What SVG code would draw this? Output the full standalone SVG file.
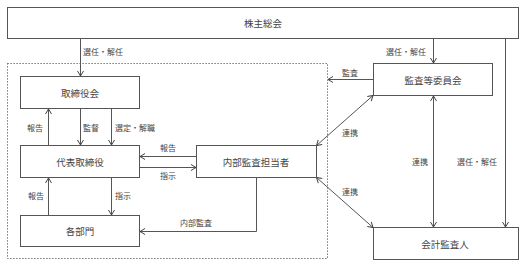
<svg xmlns="http://www.w3.org/2000/svg" width="528" height="266" viewBox="0 0 528 266">
<defs>
<style>
.box{fill:#fff;stroke:#555;stroke-width:1}
.bt{font-family:"Noto Sans CJK JP","Noto Sans CJK SC",sans-serif;font-size:9.5px;fill:#444;text-anchor:middle;dominant-baseline:central}
.lb{font-family:"Noto Sans CJK JP","Noto Sans CJK SC",sans-serif;font-size:8px;fill:#444}
.ln{fill:none;stroke:#555;stroke-width:1}
.a{marker-end:url(#ah)}
.d{marker-start:url(#ah);marker-end:url(#ah)}
</style>
<marker id="ah" viewBox="0 0 8 8" refX="7.5" refY="4" markerWidth="8" markerHeight="8" markerUnits="userSpaceOnUse" orient="auto-start-reverse">
<path d="M2.5,1 L7.5,4 L2.5,7" fill="none" stroke="#444" stroke-width="1"/>
</marker>
</defs>
<rect x="0" y="0" width="528" height="266" fill="#fff"/>
<rect id="scope" x="7.5" y="63.5" width="320" height="195" fill="none" stroke="#555" stroke-width="1" stroke-dasharray="1.2 1.8"/>
<g id="connectors">
<path class="ln a" d="M80.5,38.5 V76"/>
<path class="ln a" d="M433.5,38.5 V63"/>
<path class="ln a" d="M505.5,38.5 V227"/>
<path class="ln a" d="M48.5,145 V109"/>
<path class="ln a" d="M80.5,109 V145"/>
<path class="ln a" d="M111.5,109 V145"/>
<path class="ln a" d="M196,156.5 H140"/>
<path class="ln a" d="M140,167.5 H196"/>
<path class="ln a" d="M48.5,215 V178"/>
<path class="ln a" d="M111.5,178 V215"/>
<path class="ln a" d="M256.5,178 V231.5 H140"/>
<path class="ln a" d="M373,79.5 H328"/>
<path class="ln d" d="M316.5,145.5 L373,95.5"/>
<path class="ln d" d="M316.5,177.5 L373,227.5"/>
<path class="ln d" d="M433.5,96 V227"/>
<text class="lb" x="83" y="55">選任・解任</text>
<text class="lb" x="386" y="55">選任・解任</text>
<text class="lb" x="342" y="76">監査</text>
<text class="lb" x="342" y="136">連携</text>
<text class="lb" x="342" y="195">連携</text>
<text class="lb" x="412" y="165">連携</text>
<text class="lb" x="457" y="165">選任・解任</text>
<text class="lb" x="27" y="131">報告</text>
<text class="lb" x="83" y="131">監督</text>
<text class="lb" x="115" y="131">選定・解職</text>
<text class="lb" x="160" y="151">報告</text>
<text class="lb" x="160" y="179">指示</text>
<text class="lb" x="28" y="199">報告</text>
<text class="lb" x="115" y="199">指示</text>
<text class="lb" x="180" y="226">内部監査</text>
</g>
<g id="shareholders"><rect class="box" x="7.5" y="7.5" width="511" height="31"/><text class="bt" x="263" y="23">株主総会</text></g>
<g id="board"><rect class="box" x="20.5" y="76.5" width="119" height="32"/><text class="bt" x="80" y="92.5">取締役会</text></g>
<g id="ceo"><rect class="box" x="20.5" y="145.5" width="119" height="32"/><text class="bt" x="80" y="161.5">代表取締役</text></g>
<g id="departments"><rect class="box" x="20.5" y="215.5" width="119" height="31"/><text class="bt" x="80" y="231">各部門</text></g>
<g id="internal-audit"><rect class="box" x="196.5" y="145.5" width="120" height="32"/><text class="bt" x="256" y="161.5">内部監査担当者</text></g>
<g id="audit-committee"><rect class="box" x="373.5" y="63.5" width="119" height="32"/><text class="bt" x="433" y="79.5">監査等委員会</text></g>
<g id="accounting-auditor"><rect class="box" x="373.5" y="227.5" width="145" height="32"/><text class="bt" x="445" y="243.5">会計監査人</text></g>
</svg>
